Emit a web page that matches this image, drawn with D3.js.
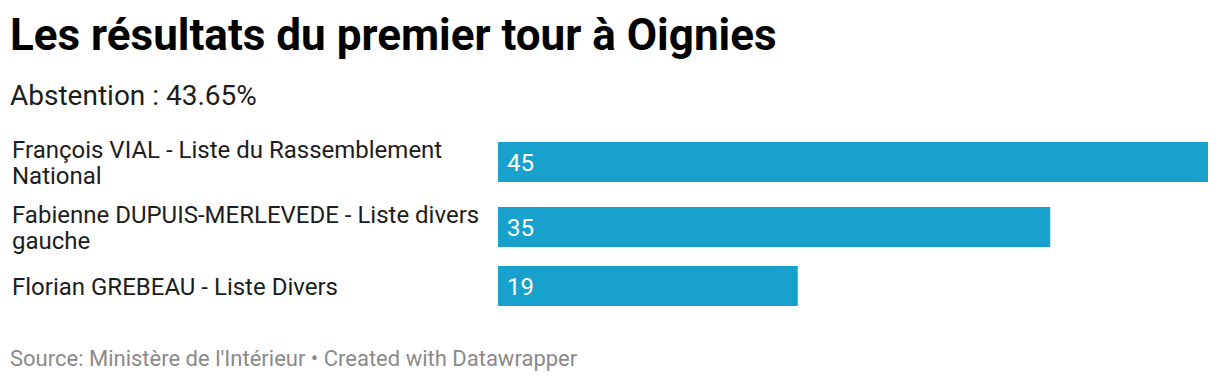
<!DOCTYPE html>
<html><head><meta charset="utf-8">
<script src="https://cdn.jsdelivr.net/npm/d3@7"></script>
<style>
html,body{margin:0;padding:0;background:#fff;}
svg{display:block;font-family:Roboto,"Noto Sans",sans-serif;}
</style></head>
<body>
<svg id="chart" width="1220" height="382"></svg>
<script>
const title = "Les résultats du premier tour à Oignies";
const subtitle = "Abstention : 43.65%";
const categories = [
  "François VIAL - Liste du Rassemblement National",
  "Fabienne DUPUIS-MERLEVEDE - Liste divers gauche",
  "Florian GREBEAU - Liste Divers"
];
const values = [45, 35, 19];
const footer = "Source: Ministère de l'Intérieur • Created with Datawrapper";

const svg = d3.select("#chart");
const barColor = "#18a1cd";
const labelX = 12, labelWidth = 484;
const barX0 = 498, barX1 = 1208;
const barH = 40, lineH = 26, rowGap = 13, firstRowTop = 136;
const labelFS = 24;

svg.append("text").attr("x", 10).attr("y", 50)
  .attr("font-size", 44).attr("font-weight", 700).attr("fill", "#000")
  .text(title);
svg.append("text").attr("x", 10).attr("y", 105)
  .attr("font-size", 28).attr("fill", "#1d1d1d")
  .text(subtitle);

function wrapLines(text, fontSize, maxW) {
  const tmp = svg.append("text").attr("font-size", fontSize);
  const words = text.split(" ");
  const lines = [];
  let cur = "";
  for (const w of words) {
    const test = cur ? cur + " " + w : w;
    tmp.text(test);
    if (tmp.node().getComputedTextLength() > maxW && cur) {
      lines.push(cur); cur = w;
    } else cur = test;
  }
  if (cur) lines.push(cur);
  tmp.remove();
  return lines;
}
const wrapped = categories.map(c => wrapLines(c, labelFS, labelWidth));
const rowHeights = wrapped.map(l => Math.max(l.length * lineH, barH));
const rowTops = [];
let acc = firstRowTop;
rowHeights.forEach(h => { rowTops.push(acc); acc += h + rowGap; });

const x = d3.scaleLinear().domain([0, d3.max(values)]).range([barX0, barX1]);
const yTop = d3.scaleOrdinal().domain(categories).range(rowTops);
const yH = d3.scaleOrdinal().domain(categories).range(rowHeights);

const rows = svg.append("g").selectAll("g").data(categories).join("g");

rows.append("rect")
  .attr("x", x(0))
  .attr("y", d => yTop(d) + yH(d) / 2 - barH / 2)
  .attr("width", (d, i) => x(values[i]) - x(0))
  .attr("height", barH)
  .attr("fill", barColor);

rows.append("text")
  .attr("x", x(0) + 9)
  .attr("y", d => yTop(d) + yH(d) / 2 + 8.5)
  .attr("font-size", labelFS).attr("fill", "#fff")
  .text((d, i) => values[i]);

rows.each(function(d, i) {
  const lines = wrapped[i];
  const center = yTop(d) + yH(d) / 2;
  const t = d3.select(this).append("text")
    .attr("font-size", labelFS).attr("fill", "#1d1d1d");
  lines.forEach((ln, j) => {
    t.append("tspan").attr("x", labelX)
      .attr("y", center - (lines.length * lineH) / 2 + j * lineH + lineH / 2 + 8.5)
      .text(ln);
  });
});

svg.append("text").attr("x", 10).attr("y", 366)
  .attr("font-size", 22).attr("fill", "#8a8a8a")
  .text(footer);
</script>
</body></html>
